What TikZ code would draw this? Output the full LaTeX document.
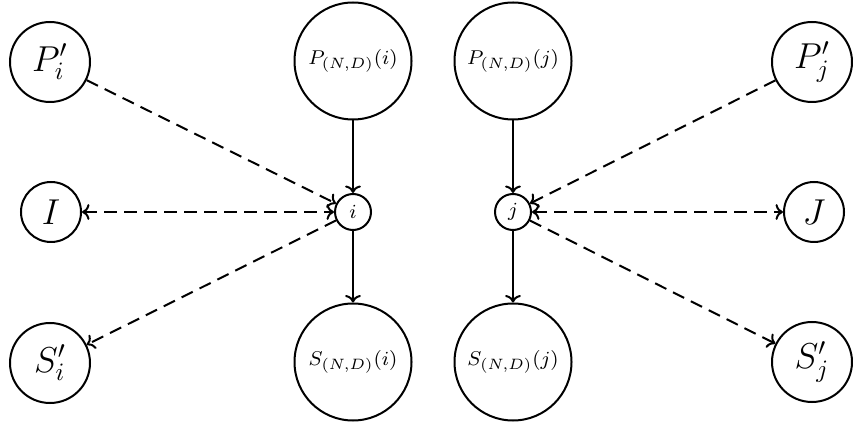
\documentclass[tikz,border=0pt]{standalone}
\usetikzlibrary{arrows.meta}
\begin{document}
\begin{tikzpicture}[x=0.4pt,y=-0.4pt,
  bigc/.style={circle,draw,thick,inner sep=0pt,minimum size=32pt,font=\Large},
  midc/.style={circle,draw,thick,inner sep=0pt,minimum size=24pt,font=\Large},
  nd/.style={circle,draw,thick,inner sep=0pt,minimum size=46.8pt,font=\footnotesize},
  sm/.style={circle,draw,thick,inner sep=0pt,minimum size=14.4pt,font=\footnotesize},
  da/.style={thick,dash pattern=on 5pt off 3pt,-{To[length=3pt]}},
  dda/.style={thick,dash pattern=on 5pt off 3pt,{To[length=3pt]}-{To[length=3pt]}},
  sa/.style={thick,-{To[length=3pt]}}]
\useasboundingbox (0,0) rectangle (853,425);
\node[bigc] (Pi) at (50,62) {$P'_i$};
\node[midc] (I) at (51,212) {$I$};
\node[bigc] (Si) at (50,363) {$S'_i$};
\node[nd] (PNi) at (353,61) {$P_{(N,D)}(i)$};
\node[sm] (i) at (353,212) {$i$};
\node[nd] (SNi) at (353,362) {$S_{(N,D)}(i)$};
\node[nd] (PNj) at (513,61) {$P_{(N,D)}(j)$};
\node[sm] (j) at (513,212) {$j$};
\node[nd] (SNj) at (513,362) {$S_{(N,D)}(j)$};
\node[bigc] (Pj) at (812,62) {$P'_j$};
\node[midc] (J) at (814,212) {$J$};
\node[bigc] (Sj) at (812,362) {$S'_j$};
\draw[da] (Pi) -- (i);
\draw[dda] (I) -- (i);
\draw[da] (i) -- (Si);
\draw[sa] (PNi) -- (i);
\draw[sa] (i) -- (SNi);
\draw[da] (Pj) -- (j);
\draw[dda] (j) -- (J);
\draw[da] (j) -- (Sj);
\draw[sa] (PNj) -- (j);
\draw[sa] (j) -- (SNj);
\end{tikzpicture}
\end{document}
